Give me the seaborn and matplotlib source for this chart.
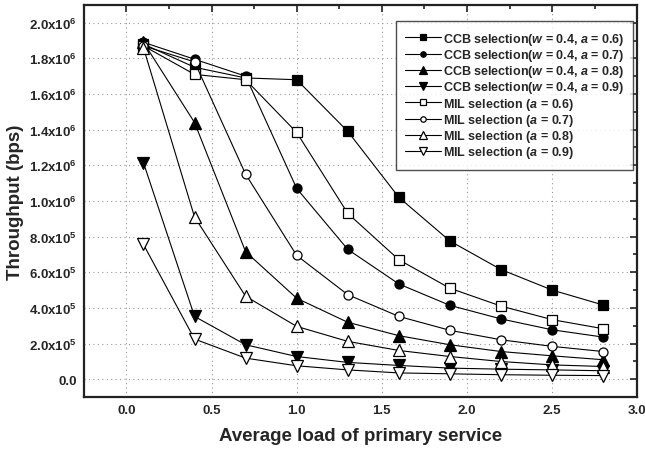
import matplotlib
matplotlib.use("Agg")
import matplotlib.pyplot as plt
import seaborn as sns
import numpy as np
import pandas as pd
from matplotlib.ticker import FuncFormatter, MultipleLocator

# ---------------- data ----------------
load = [0.1, 0.4, 0.7, 1.0, 1.3, 1.6, 1.9, 2.2, 2.5, 2.8]

ccb_06 = [1.88e6, 1.75e6, 1.69e6, 1.68e6, 1.39e6, 1.02e6, 0.775e6, 0.615e6, 0.50e6, 0.416e6]
ccb_07 = [1.89e6, 1.795e6, 1.70e6, 1.07e6, 0.728e6, 0.534e6, 0.414e6, 0.338e6, 0.277e6, 0.236e6]
ccb_08 = [1.89e6, 1.44e6, 0.715e6, 0.454e6, 0.319e6, 0.244e6, 0.193e6, 0.155e6, 0.131e6, 0.109e6]
ccb_09 = [1.215e6, 0.352e6, 0.193e6, 0.127e6, 0.094e6, 0.077e6, 0.062e6, 0.056e6, 0.052e6, 0.047e6]
mil_06 = [1.87e6, 1.71e6, 1.68e6, 1.384e6, 0.93e6, 0.67e6, 0.51e6, 0.41e6, 0.334e6, 0.283e6]
mil_07 = [1.87e6, 1.78e6, 1.15e6, 0.694e6, 0.474e6, 0.352e6, 0.274e6, 0.221e6, 0.184e6, 0.155e6]
mil_08 = [1.86e6, 0.91e6, 0.465e6, 0.296e6, 0.212e6, 0.161e6, 0.127e6, 0.099e6, 0.080e6, 0.071e6]
mil_09 = [0.756e6, 0.225e6, 0.118e6, 0.075e6, 0.052e6, 0.035e6, 0.030e6, 0.025e6, 0.022e6, 0.020e6]

labels = [
    r"CCB selection($w$ = 0.4, $a$ = 0.6)",
    r"CCB selection($w$ = 0.4, $a$ = 0.7)",
    r"CCB selection($w$ = 0.4, $a$ = 0.8)",
    r"CCB selection($w$ = 0.4, $a$ = 0.9)",
    r"MIL selection ($a$ = 0.6)",
    r"MIL selection ($a$ = 0.7)",
    r"MIL selection ($a$ = 0.8)",
    r"MIL selection ($a$ = 0.9)",
]
series = [ccb_06, ccb_07, ccb_08, ccb_09, mil_06, mil_07, mil_08, mil_09]

# ---------------- style ----------------
sns.set_theme(style="white")
plt.rcParams["font.family"] = ["Liberation Sans", "DejaVu Sans"]
plt.rcParams["font.weight"] = "bold"
plt.rcParams["mathtext.fontset"] = "custom"
plt.rcParams["mathtext.rm"] = "Liberation Sans:bold"
plt.rcParams["mathtext.bf"] = "Liberation Sans:bold"
plt.rcParams["mathtext.it"] = "Liberation Sans:bold:italic"

markers = ["s", "o", "^", "v", "s", "o", "^", "v"]
faces = ["black"] * 4 + ["white"] * 4
msizes = [6.5, 6.5, 9, 9, 6.5, 6.5, 9, 9]

fig = plt.figure(figsize=(6.45, 4.52), dpi=100)
ax = fig.add_axes([0.130, 0.1195, 0.858, 0.8675])

for lab, vals, mk, fc, ms in zip(labels, series, markers, faces, msizes):
    df = pd.DataFrame({"load": load, "thr": vals})
    sns.lineplot(data=df, x="load", y="thr", ax=ax, color="black", lw=0.8,
                 marker=mk, markersize=ms, markerfacecolor=fc,
                 markeredgecolor="black", markeredgewidth=0.9, label=lab)

ax.set_xlim(-0.25, 3.0)
ax.set_ylim(-1e5, 2.1e6)
ax.xaxis.set_major_locator(MultipleLocator(0.5))
ax.xaxis.set_minor_locator(MultipleLocator(0.25))
ax.yaxis.set_major_locator(MultipleLocator(2e5))
ax.yaxis.set_minor_locator(MultipleLocator(1e5))


def yfmt(v, pos):
    if abs(v) < 1:
        return "0.0"
    e = int(np.floor(np.log10(abs(v)) + 1e-9))
    m = v / 10 ** e
    return "%.1fx10$^{%d}$" % (m, e)


ax.yaxis.set_major_formatter(FuncFormatter(yfmt))
ax.xaxis.set_major_formatter(FuncFormatter(lambda v, p: "%.1f" % v))

ax.tick_params(which="both", direction="in", top=True, right=True,
               labelsize=9.5, width=1.2, color="#222222")
ax.tick_params(which="major", length=5, pad=5)
ax.tick_params(which="minor", length=3)
for lab in ax.get_xticklabels() + ax.get_yticklabels():
    lab.set_fontweight("bold")

for s in ax.spines.values():
    s.set_linewidth(1.6)
    s.set_color("#222222")

ax.grid(True, which="major", linestyle=(0, (1, 3)), color="#999999", lw=0.8)

ax.set_xlabel("Average load of primary service", fontsize=13.5, fontweight="bold", labelpad=8)
ax.set_ylabel("Throughput (bps)", fontsize=13.5, fontweight="bold", labelpad=4)

leg = ax.legend(loc="upper right", bbox_to_anchor=(0.993, 0.958), borderaxespad=0,
                fontsize=9, frameon=True, fancybox=False, markerscale=0.6,
                handlelength=2.9, handletextpad=0.1, labelspacing=0.02,
                borderpad=0.75, edgecolor="#222222")
leg.get_frame().set_linewidth(1.0)
for t in leg.get_texts():
    t.set_fontweight("bold")

fig.savefig("out.png", dpi=100)
